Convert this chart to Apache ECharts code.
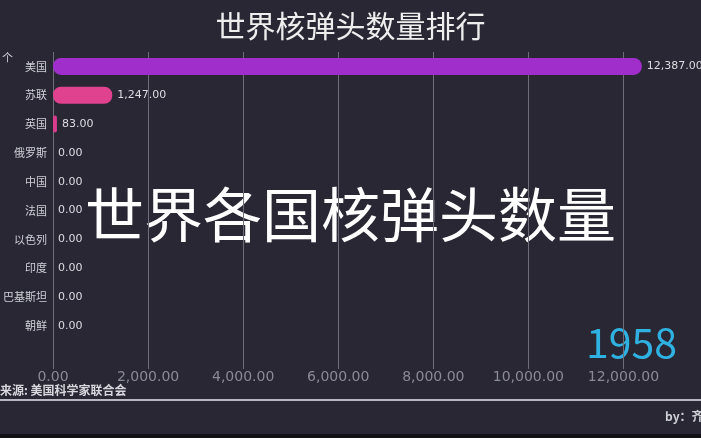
<!DOCTYPE html>
<html>
<head>
<meta charset="utf-8">
<script src="https://cdn.jsdelivr.net/npm/echarts@6/dist/echarts.min.js"></script>
<style>
html,body{margin:0;padding:0;background:#282733;}
#c{width:701px;height:438px;}
</style>
</head>
<body>
<div id="c"></div>
<script>
var countries = ['美国','苏联','英国','俄罗斯','中国','法国','以色列','印度','巴基斯坦','朝鲜'];
var warheads = [12387, 1247, 83, 0, 0, 0, 0, 0, 0, 0];
var barColors = ['#a02ecb','#e0428f','#d83c8c','#d83c8c','#d83c8c','#d83c8c','#d83c8c','#d83c8c','#d83c8c','#d83c8c'];
var xTicks = [0,2000,4000,6000,8000,10000,12000];
var year = '1958';

var chart = echarts.init(document.getElementById('c'), null, {renderer:'canvas'});
var font = '"Noto Sans CJK SC", "Noto Sans", sans-serif';
var numFont = '"DejaVu Sans", sans-serif';
function fmt(v){ return v.toLocaleString('en-US',{minimumFractionDigits:2, maximumFractionDigits:2}); }
chart.setOption({
  backgroundColor: '#282733',
  animation: false,
  title: {
    text: '世界核弹头数量排行',
    left: 'center',
    top: 6,
    textStyle: {color:'#eeeeee', fontSize:30, fontWeight:'normal', fontFamily:font}
  },
  grid: {left:52, right:30, top:52, bottom:69, containLabel:false},
  xAxis: {
    type:'value', min:0, max:13000, interval:2000,
    axisLine:{show:false}, axisTick:{show:false},
    axisLabel:{color:'#8a8a96', fontSize:14, margin:1, fontFamily:numFont,
      formatter:function(v){ return xTicks.indexOf(v) >= 0 ? fmt(v) : ''; }},
    splitLine:{show:true, lineStyle:{color:['#6e6d78','#6e6d78','#6e6d78','#6e6d78','#6e6d78','#6e6d78','#6e6d78','rgba(0,0,0,0)'], width:1}}
  },
  yAxis: {
    type:'category', inverse:true, data:countries, max:10,
    axisLine:{show:false}, axisTick:{show:false},
    axisLabel:{color:'#d0d0d8', fontSize:11, margin:6, fontFamily:font}
  },
  series: [{
    type:'bar',
    data: warheads.map(function(v,i){ return {value:v, itemStyle:{color:barColors[i]}}; }),
    barWidth:17,
    itemStyle:{borderRadius:8},
    label:{show:true, position:'right', distance:5, color:'#dcdce2', fontSize:11, fontFamily:numFont,
      formatter:function(p){ return fmt(p.value); }}
  }],
  graphic: [
    {type:'text', left:2, top:52, style:{text:'个', fill:'#cfcfd6', font:'11px '+font}},
    {type:'text', left:0, top:384, style:{text:'来源: 美国科学家联合会', fill:'#d8d8de', font:'bold 12px '+font}},
    {type:'rect', shape:{x:0, y:399, width:701, height:2}, style:{fill:'#b8b8c0'}},
    {type:'text', left:665, top:410, style:{text:'by：齐天大圣', fill:'#cfcfd6', font:'bold 12px '+font}},
    {type:'rect', shape:{x:0, y:434, width:701, height:4}, style:{fill:'#111115'}},
    {type:'text', right:24, top:322, style:{text:year, fill:'#2fb2e2', font:'41px '+font}},
    {type:'text', left:'center', top:185, style:{text:'世界各国核弹头数量', fill:'#ffffff', font:'59px '+font}}
  ]
});
</script>
</body>
</html>
